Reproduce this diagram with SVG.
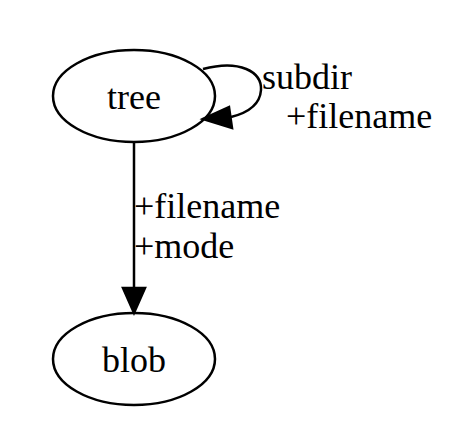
<svg xmlns="http://www.w3.org/2000/svg" width="476" height="432" viewBox="0 0 476 432">
<style>
.n{fill:none;stroke:#000;stroke-width:2.5}
.e{fill:none;stroke:#000;stroke-width:2.5}
.h{fill:#000;stroke:#000;stroke-width:2.5}
text{font-family:"Liberation Serif","Times New Roman",serif;font-size:36px;fill:#000}
</style>
<rect width="476" height="432" fill="#fff"/>
<g id="tree">
<ellipse class="n" cx="134" cy="96" rx="81" ry="46"/>
<text x="134" y="109" text-anchor="middle">tree</text>
</g>
<g id="blob">
<ellipse class="n" cx="134" cy="359" rx="81" ry="46"/>
<text x="134" y="372" text-anchor="middle">blob</text>
</g>
<g id="edges">
<path class="e" d="M203,69 C240,59 262,72 261,90 C260,105 247,113 231,117"/>
<polygon class="h" points="203,119 229,107 232,128"/>
<text x="262" y="89">subdir</text>
<text x="286" y="128">+filename</text>
<path class="e" d="M134,142 V288"/>
<polygon class="h" points="123,288 145,288 134,313"/>
<text x="134" y="218">+filename</text>
<text x="134" y="258">+mode</text>
</g>
</svg>
